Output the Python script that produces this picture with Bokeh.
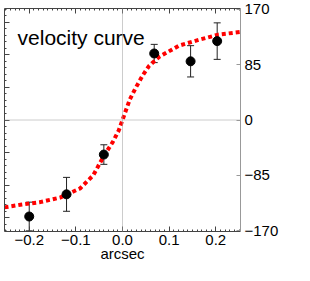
from bokeh.plotting import figure
from bokeh.models import (LinearAxis, FixedTicker, SingleIntervalTicker, CustomJSTickFormatter,
                          Range1d, Span, Whisker, ColumnDataSource, Label)
from bokeh.embed import file_html
from bokeh.resources import INLINE
import math

# ---- data ----
title_text = "velocity curve"
x_label = "arcsec"
y_label = "km / s"

x_ticks = [-0.2, -0.1, 0.0, 0.1, 0.2]
y_ticks = [-170, -85, 0, 85, 170]

obs_x = [-0.2, -0.12, -0.04, 0.068, 0.146, 0.203]
obs_v = [-148, -114, -53, 102, 90, 121]
obs_err = [22, 26, 15, 14, 24, 28]

curve_x = [-0.253, -0.219, -0.177, -0.134, -0.091, -0.063, -0.056, -0.04, -0.021, -0.008, 0.0,
           0.0064, 0.016, 0.028, 0.043, 0.057, 0.079, 0.121, 0.164, 0.206, 0.253]
curve_v = [-134, -130, -126, -119, -105, -85, -76, -55, -34, -16, 0,
           13, 32, 49, 68, 83, 97, 114, 123, 131, 135]

FONT = "Liberation Sans"

p = figure(width=294, height=265, output_backend="svg", toolbar_location=None,
           x_range=Range1d(-0.253, 0.253), y_range=Range1d(-171, 171),
           x_axis_location=None, y_axis_location=None,
           min_border_left=4, min_border_top=8, min_border_right=54, min_border_bottom=34)
p.outline_line_color = None
p.grid.visible = False
p.background_fill_color = "white"
p.border_fill_color = "white"

xfmt = CustomJSTickFormatter(code="return tick.toFixed(1).replace('-', '\\u2212');")
yfmt = CustomJSTickFormatter(code="return tick.toFixed(0).replace('-', '\\u2212');")
blank = CustomJSTickFormatter(code="return '';")

def style_axis(ax, color="#444444"):
    ax.axis_line_color = color
    ax.major_tick_line_color = color
    ax.minor_tick_line_color = color
    ax.major_tick_out = 0
    ax.minor_tick_out = 0
    ax.major_tick_in = 5
    ax.minor_tick_in = 2

bottom = LinearAxis(ticker=SingleIntervalTicker(interval=0.1, num_minor_ticks=10), formatter=xfmt,
                    axis_label=x_label)
style_axis(bottom)
bottom.major_label_text_font = FONT
bottom.major_label_text_font_size = "15px"
bottom.major_label_text_color = "black"
bottom.major_label_standoff = 3
bottom.axis_label_text_font = FONT
bottom.axis_label_text_font_size = "15px"
bottom.axis_label_text_font_style = "normal"
bottom.axis_label_text_color = "black"
bottom.axis_label_standoff = -3
p.add_layout(bottom, "below")

top = LinearAxis(ticker=SingleIntervalTicker(interval=0.1, num_minor_ticks=10), formatter=blank)
style_axis(top)
top.major_label_text_font_size = "1px"
top.major_label_standoff = 0
p.add_layout(top, "above")

left = LinearAxis(ticker=SingleIntervalTicker(interval=50, num_minor_ticks=5), formatter=blank)
style_axis(left)
left.major_label_text_font_size = "1px"
left.major_label_standoff = 0
p.add_layout(left, "left")

right = LinearAxis(ticker=FixedTicker(ticks=y_ticks, minor_ticks=[]), formatter=yfmt)
style_axis(right, "#999999")
right.major_tick_in = 4
right.major_label_text_font = FONT
right.major_label_text_font_size = "15px"
right.major_label_text_color = "black"
right.major_label_standoff = 4
p.add_layout(right, "right")

p.add_layout(Label(x=0.253, y=0, x_offset=46, text=y_label, angle=math.pi / 2,
                   text_font=FONT, text_font_size="15px", text_color="black",
                   text_align="center", text_baseline="middle"))

p.add_layout(Span(location=0, dimension="width", line_color="#999999", line_width=1, line_dash="1 1"))
p.add_layout(Span(location=0, dimension="height", line_color="#999999", line_width=1, line_dash="1 1"))

p.line(curve_x, curve_v, line_color="red", line_width=4, line_dash="4 3")

src = ColumnDataSource(dict(x=obs_x, v=obs_v,
                            lo=[v - e for v, e in zip(obs_v, obs_err)],
                            hi=[v + e for v, e in zip(obs_v, obs_err)]))
w = Whisker(base="x", lower="lo", upper="hi", source=src, line_color="#222222", line_width=1)
w.upper_head.size = 7
w.lower_head.size = 7
w.upper_head.line_color = "#222222"
w.lower_head.line_color = "#222222"
p.add_layout(w)
p.scatter("x", "v", source=src, size=9, color="black")

p.add_layout(Label(x=-0.225, y=126, text=title_text, text_font=FONT, text_font_size="21px",
                   text_color="black", text_baseline="alphabetic"))

open("out.html", "w").write(file_html(p, INLINE))
